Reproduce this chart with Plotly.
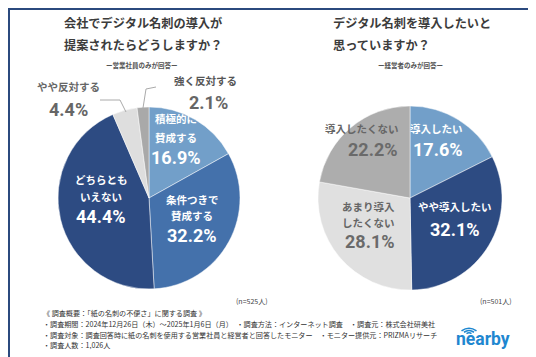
import plotly.graph_objects as go

W, H = 536, 357

# ---- data ----
left_labels = ["積極的に賛成する", "条件つきで賛成する", "どちらともいえない", "やや反対する", "強く反対する"]
left_values = [16.9, 32.2, 44.4, 4.4, 2.1]
left_colors = ["#729fc9", "#4471ab", "#2d4b82", "#dedede", "#a9a9a9"]

right_labels = ["導入したい", "やや導入したい", "あまり導入したくない", "導入したくない"]
right_values = [17.6, 32.1, 28.1, 22.2]
right_colors = ["#729fc9", "#2d4b82", "#e0e0e0", "#adadad"]

left_title = ["会社でデジタル名刺の導入が", "提案されたらどうしますか？"]
right_title = ["デジタル名刺を導入したいと", "思っていますか？"]
left_sub = "ー営業社員のみが回答ー"
right_sub = "ー経営者のみが回答ー"
left_n = "(n=525人)"
right_n = "(n=501人)"
footer = [
    "《 調査概要：「紙の名刺の不便さ」に関する調査 》",
    "・調査期間：2024年12月26日（木）～2025年1月6日（月）　・調査方法：インターネット調査　・調査元：株式会社研美社",
    "・調査対象：調査回答時に紙の名刺を使用する営業社員と経営者と回答したモニター　・モニター提供元：PRIZMAリサーチ",
    "・調査人数：1,026人",
]

JP = "Noto Sans CJK JP, sans-serif"
NUM = "Roboto, sans-serif"


def px(x):
    return x / W


def py(y):
    return 1 - y / H


fig = go.Figure()
fig.add_trace(go.Pie(
    labels=left_labels, values=left_values, sort=False, direction="clockwise",
    marker=dict(colors=left_colors, line=dict(color="rgba(255,255,255,0.6)", width=0.8)),
    textinfo="none", hoverinfo="label+value", showlegend=False,
    domain=dict(x=[px(50), px(232)], y=[py(281), py(99)]),
))
fig.add_trace(go.Pie(
    labels=right_labels, values=right_values, sort=False, direction="clockwise",
    marker=dict(colors=right_colors, line=dict(color="rgba(255,255,255,0.6)", width=0.8)),
    textinfo="none", hoverinfo="label+value", showlegend=False,
    domain=dict(x=[px(310), px(494)], y=[py(282), py(98)]),
))

ann = []


def txt(x, y, s, size, color, family=JP, xanchor="center", bold=True, dy=None):
    # dy compensates the rendered vertical offset of the text box
    if dy is None:
        dy = 7 if family == JP else 6
    t = f"<b>{s}</b>" if bold else s
    ann.append(dict(x=px(x), y=py(y - dy), xref="paper", yref="paper", text=t, showarrow=False,
                    xanchor=xanchor, yanchor="middle",
                    font=dict(size=size, color=color, family=family)))


TC = "#3c3c3c"
# titles
txt(135, 22, left_title[0], 12.2, TC)
txt(135, 44, left_title[1], 12.2, TC)
txt(323, 22, right_title[0], 12.2, TC, xanchor="left")
txt(323, 44, right_title[1], 12.2, TC, xanchor="left")
txt(134, 62, left_sub, 6.5, "#555555", dy=5)
txt(402, 62, right_sub, 6.5, "#555555", dy=5)

# left pie labels
txt(168, 117, left_labels[0][:4], 10.5, "white")
txt(168, 136, left_labels[0][4:], 10.5, "white")
txt(168, 155, f"{left_values[0]}%", 18, "white", NUM)
txt(184, 198, left_labels[1][:5], 10.5, "white")
txt(184, 214, left_labels[1][5:], 10.5, "white")
txt(184, 234, f"{left_values[1]}%", 18, "white", NUM)
txt(93, 178, left_labels[2][:5], 10.5, "white")
txt(93, 195, left_labels[2][5:], 10.5, "white")
txt(93, 214, f"{left_values[2]}%", 18, "white", NUM)
txt(60, 85, left_labels[3], 10.5, "#666666")
txt(60, 107, f"{left_values[3]}%", 18, "#666666", NUM)
txt(197, 80, left_labels[4], 10.5, "#555555")
txt(200, 101, f"{left_values[4]}%", 18, "#666666", NUM)

# right pie labels
txt(428, 127, right_labels[0], 10.5, "white")
txt(430, 148, f"{right_values[0]}%", 18, "white", NUM)
txt(447, 205, right_labels[1], 10.5, "white")
txt(447, 227, f"{right_values[1]}%", 18, "white", NUM)
txt(360, 205, right_labels[2][:5], 10.5, "#666666")
txt(360, 221, right_labels[2][5:], 10.5, "#666666")
txt(362, 239, f"{right_values[2]}%", 18, "#6a6a6a", NUM)
txt(393, 127, right_labels[3], 10.5, "#666666", xanchor="right")
txt(392, 148, f"{right_values[3]}%", 18, "#6a6a6a", NUM, xanchor="right")

# sample sizes
txt(244, 297, left_n, 7, "#444444", bold=False, dy=4)
txt(488, 297, right_n, 7, "#444444", bold=False, dy=4)

# footer
for i, y in enumerate([309, 320, 331, 341]):
    txt(33, y, footer[i], 7.1, "#333333", xanchor="left", bold=False, dy=4)

# logo text
txt(446, 336, "nearby", 17.5, "#1f87d0", "Roboto, sans-serif", xanchor="left", dy=5)

shapes = []


def line(pts, color="#aaaaaa", width=1):
    d = "M " + " L ".join(f"{px(x)},{py(y)}" for x, y in pts)
    shapes.append(dict(type="path", path=d, xref="paper", yref="paper",
                       line=dict(color=color, width=width)))


# leader lines
line([(92, 92), (112, 92), (118, 104)])
line([(135, 100), (138, 81), (148, 79)])

# wifi arcs above logo 'n'
for r in (2.5, 5, 7.5):
    cx, cy = 461, 327
    shapes.append(dict(type="path", xref="paper", yref="paper",
                       path=f"M {px(cx - r)},{py(cy - r * 0.55)} Q {px(cx)},{py(cy - r * 1.25)} {px(cx + r)},{py(cy - r * 0.55)}",
                       line=dict(color="#1f87d0", width=1.6)))

# border
shapes.append(dict(type="rect", xref="paper", yref="paper", x0=px(1), x1=px(535), y0=py(356), y1=py(1),
                   line=dict(color="#2b4a7e", width=2)))

fig.update_layout(
    width=W, height=H, autosize=False,
    margin=dict(l=0, r=0, t=0, b=0),
    paper_bgcolor="white", plot_bgcolor="white",
    annotations=ann, shapes=shapes,
)

fig.write_html("out.html")
